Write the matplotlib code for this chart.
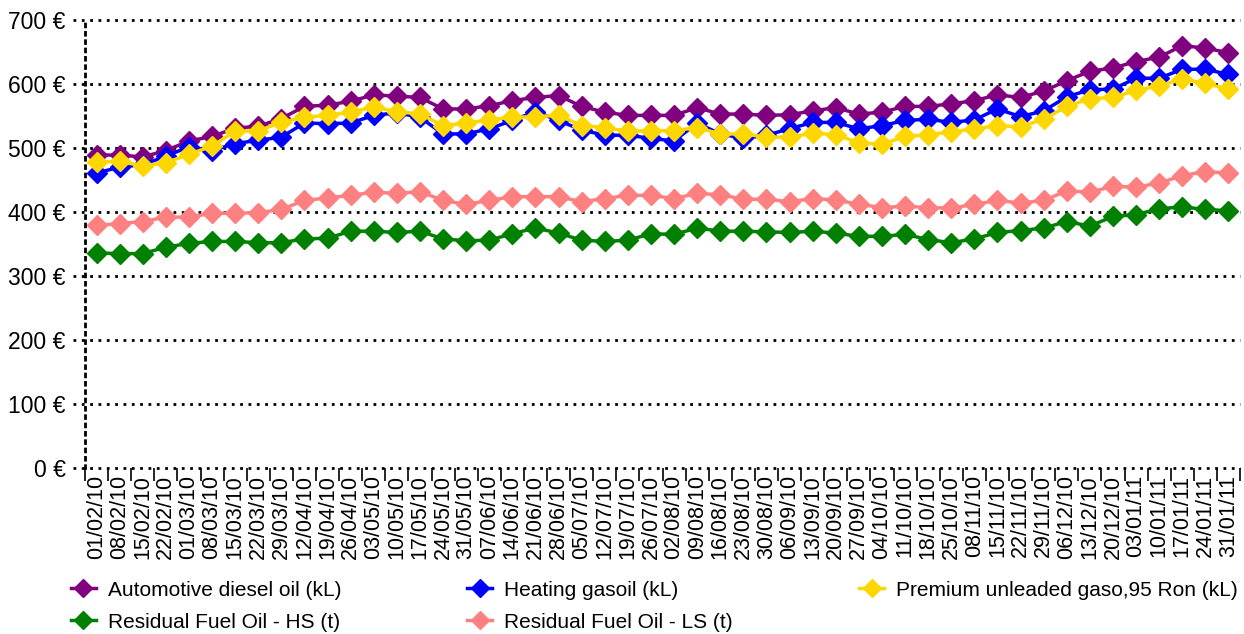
import matplotlib
matplotlib.use("Agg")
import matplotlib.pyplot as plt
from matplotlib.ticker import FixedLocator, FuncFormatter
from matplotlib.transforms import blended_transform_factory

plt.rcParams['font.family'] = ['Liberation Sans', 'DejaVu Sans']

dates = ["01/02/10", "08/02/10", "15/02/10", "22/02/10", "01/03/10", "08/03/10", "15/03/10",
         "22/03/10", "29/03/10", "12/04/10", "19/04/10", "26/04/10", "03/05/10", "10/05/10",
         "17/05/10", "24/05/10", "31/05/10", "07/06/10", "14/06/10", "21/06/10", "28/06/10",
         "05/07/10", "12/07/10", "19/07/10", "26/07/10", "02/08/10", "09/08/10", "16/08/10",
         "23/08/10", "30/08/10", "06/09/10", "13/09/10", "20/09/10", "27/09/10", "04/10/10",
         "11/10/10", "18/10/10", "25/10/10", "08/11/10", "15/11/10", "22/11/10", "29/11/10",
         "06/12/10", "13/12/10", "20/12/10", "03/01/11", "10/01/11", "17/01/11", "24/01/11",
         "31/01/11"]

diesel = [489, 489, 486, 496, 511, 518, 531, 534, 546, 565, 567, 573, 583, 581,
          579, 561, 561, 566, 574, 579, 582, 565, 556, 551, 551, 551, 563, 553,
          553, 551, 552, 558, 563, 553, 556, 565, 565, 569, 574, 583, 579, 589,
          605, 620, 625, 635, 642, 660, 656, 649]

heating = [461, 470, 474, 487, 502, 496, 507, 512, 517, 539, 538, 539, 551, 555,
           548, 522, 522, 530, 543, 557, 543, 528, 520, 520, 515, 511, 539, 522,
           515, 520, 530, 540, 540, 530, 535, 543, 545, 540, 544, 561, 549, 558,
           580, 591, 592, 609, 609, 623, 623, 615]

premium = [478, 479, 472, 477, 490, 503, 526, 527, 540, 548, 551, 556, 564, 557,
           553, 535, 539, 544, 548, 549, 551, 535, 532, 526, 527, 527, 532, 522,
           522, 517, 517, 523, 521, 508, 506, 518, 521, 525, 530, 535, 533, 545,
           565, 577, 579, 590, 597, 608, 601, 592]

fuel_hs = [336, 335, 335, 345, 351, 354, 354, 352, 352, 358, 359, 370, 370, 368,
           370, 358, 355, 356, 366, 375, 367, 356, 354, 356, 366, 365, 375, 370,
           370, 369, 368, 370, 367, 362, 362, 365, 357, 352, 358, 368, 371, 375,
           385, 378, 393, 396, 405, 408, 404, 402]

fuel_ls = [379, 382, 385, 392, 392, 398, 398, 399, 404, 418, 422, 426, 431, 429,
           432, 418, 412, 418, 424, 424, 424, 416, 421, 426, 426, 421, 429, 427,
           420, 420, 416, 421, 419, 412, 407, 409, 407, 406, 412, 418, 414, 418,
           433, 431, 440, 439, 445, 457, 463, 461]

y_ticks = [0, 100, 200, 300, 400, 500, 600, 700]

series = [
    ("Automotive diesel oil (kL)", diesel, "#800080"),
    ("Heating gasoil (kL)", heating, "#0000FF"),
    ("Premium unleaded gaso,95 Ron (kL)", premium, "#FFD700"),
    ("Residual Fuel Oil - HS (t)", fuel_hs, "#008000"),
    ("Residual Fuel Oil - LS (t)", fuel_ls, "#FF8080"),
]

fig = plt.figure(figsize=(12.44, 6.34), dpi=100)
ax = fig.add_axes([85 / 1244, 1 - 468 / 634, 1155 / 1244, 448 / 634])

x = list(range(len(dates)))
handles = {}
for name, vals, col in series:
    h, = ax.plot(x, vals, color=col, lw=2.5, marker="D", markersize=10.5,
                 markeredgecolor=col, label=name, zorder=3)
    handles[name] = h

ax.set_xlim(-0.5, len(dates) - 0.5)
ax.set_ylim(0, 700)
ax.set_yticks(y_ticks)
ax.yaxis.set_major_formatter(FuncFormatter(lambda v, p: f"{int(v)} €"))
ax.tick_params(axis="y", labelsize=16.5, length=0, pad=14)

# dotted gridlines extending slightly left of the axis
trans = blended_transform_factory(ax.transAxes, ax.transData)
for yv in y_ticks:
    ax.plot([-12 / 1155, 1], [yv, yv], transform=trans, clip_on=False,
            color="black", linestyle=(0, (1, 2)), lw=2, zorder=1)

ax.set_xticks(x)
ax.set_xticklabels(dates, rotation=90, fontsize=15.5)
ax.xaxis.set_minor_locator(FixedLocator([i - 0.5 for i in range(len(dates) + 1)]))
ax.tick_params(axis="x", which="major", length=0, pad=5)
ax.tick_params(axis="x", which="minor", length=9, width=1.2, color="black")

for s in ["top", "right", "bottom"]:
    ax.spines[s].set_visible(False)
ax.spines["left"].set_linestyle((0, (1, 2)))
ax.spines["left"].set_linewidth(2)

order = ["Automotive diesel oil (kL)", "Residual Fuel Oil - HS (t)",
         "Heating gasoil (kL)", "Residual Fuel Oil - LS (t)",
         "Premium unleaded gaso,95 Ron (kL)"]
fig.legend([handles[n] for n in order], order, ncol=3, loc="upper left",
           bbox_to_anchor=(52 / 1244, 1 - 562 / 634), frameon=False, fontsize=15,
           handlelength=1.2, handletextpad=0.58, columnspacing=6.05, labelspacing=0.62,
           markerscale=0.9)

fig.savefig("out.png", dpi=100)
